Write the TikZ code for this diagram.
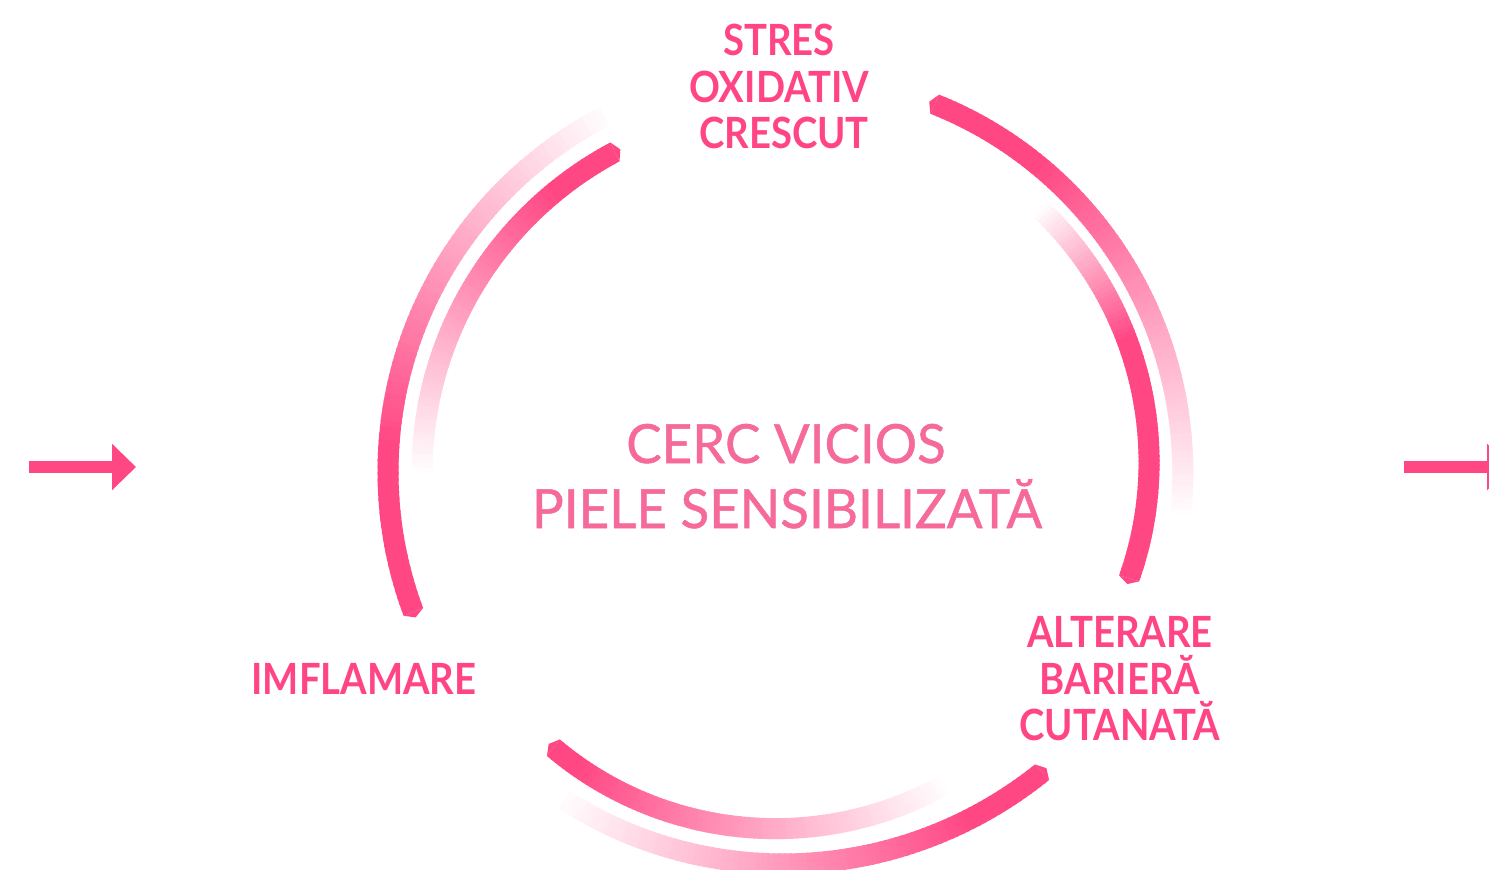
\documentclass[tikz,border=0pt]{standalone}
\usepackage{fontspec}
\setmainfont{Lato}
\newfontfamily\medfont{Lato}[FakeBold=0.9,FakeStretch=0.98]
\newfontfamily\labfont{Lato}[FakeStretch=0.89]
\usetikzlibrary{arrows.meta}
\definecolor{arcpink}{HTML}{FF4784}
\definecolor{labpink}{HTML}{FF4585}
\definecolor{cenpink}{HTML}{F56A9B}
\def\hw{10.5}
% #1 start angle, #2 mid angle, #3 end angle, #4 #5 #6 radii, #7 angle of zero colour, #8 angle of full colour
\newcommand{\gradarc}[8]{%
 \foreach \i in {0,...,89}{%
  \pgfmathsetmacro{\tmid}{(#2-#1)/(#3-#1)}%
  \pgfmathsetmacro{\ua}{\i/90}%
  \pgfmathsetmacro{\ub}{min(1,(\i+1.4)/90)}%
  \pgfmathsetmacro{\ta}{#1+(#3-#1)*\ua}%
  \pgfmathsetmacro{\tb}{#1+(#3-#1)*\ub}%
  \pgfmathsetmacro{\ra}{#4*(\ua-\tmid)*(\ua-1)/\tmid + #5*\ua*(\ua-1)/(\tmid*(\tmid-1)) + #6*\ua*(\ua-\tmid)/(1-\tmid)}%
  \pgfmathsetmacro{\rb}{#4*(\ub-\tmid)*(\ub-1)/\tmid + #5*\ub*(\ub-1)/(\tmid*(\tmid-1)) + #6*\ub*(\ub-\tmid)/(1-\tmid)}%
  \pgfmathsetmacro{\tc}{(\ta+\tb)/2}%
  \pgfmathtruncatemacro{\pc}{100*max(0,min(1,(\tc-#7)/(#8-#7)))}%
  \fill[arcpink!\pc!white] ({768+(\ra-\hw)*cos(\ta)},{470-(\ra-\hw)*sin(\ta)}) -- ({768+(\ra+\hw)*cos(\ta)},{470-(\ra+\hw)*sin(\ta)}) -- ({768+(\rb+\hw)*cos(\tb)},{470-(\rb+\hw)*sin(\tb)}) -- ({768+(\rb-\hw)*cos(\tb)},{470-(\rb-\hw)*sin(\tb)}) -- cycle;
 }}
% #1 angle, #2 radius, #3 direction (+1/-1), #4 tip length
\newcommand{\arctip}[4]{%
  \pgfmathsetmacro{\tipang}{#1+#3*#4/#2*57.2958}%
  \fill[arcpink] ({768+(#2-\hw)*cos(#1)},{470-(#2-\hw)*sin(#1)}) -- ({768+(#2+\hw)*cos(#1)},{470-(#2+\hw)*sin(#1)}) -- ({768+#2*cos(\tipang)},{470-#2*sin(\tipang)}) -- cycle;}
\tikzset{
  lab/.style={text=labpink, font=\labfont\bfseries\fontsize{21.5}{24}\selectfont, anchor=base, inner sep=0pt},
  cen/.style={text=cenpink, font=\medfont\fontsize{27}{30}\selectfont, anchor=base, inner sep=0pt},
  bigarrow/.style={draw=arcpink, line width=6.3pt, -{Triangle[length=12pt,width=22.5pt]}}
}
\begin{document}
\begin{tikzpicture}[x=0.5pt,y=-0.5pt]
\useasboundingbox (0,0) rectangle (1489,869);
\clip (0,0) rectangle (1489,869);
% arcs
\gradarc{113.9}{180}{201.8}{390}{380}{382}{114}{176}
\gradarc{115.7}{150}{181}{353}{347}{346}{181}{128}
\gradarc{65.5}{20}{-7}{402}{413}{415}{-7}{48}
\gradarc{44}{15}{-16.7}{377}{382}{377}{44}{20}
\gradarc{232.3}{266}{300}{351}{358}{361}{300}{238}
\gradarc{237.5}{275}{312.2}{387.5}{395}{408}{237.5}{300}
\arctip{201.8}{382}{1}{6}
\arctip{115.7}{353}{-1}{6}
\arctip{65.5}{402}{1}{6}
\arctip{-16.7}{377}{-1}{6}
\arctip{232.3}{351}{-1}{6}
\arctip{312.2}{408}{1}{6}
% arrows
\coordinate (la0) at (29,467);
\coordinate (la1) at (136,467);
\coordinate (ra0) at (1404,467);
\coordinate (ra1) at (1511,467);
\draw[bigarrow] (la0) -- (la1);
\draw[bigarrow] (ra0) -- (ra1);
% labels
\node[lab] (s1) at (779,55) {STRES};
\node[lab] (s2) at (779,102) {OXIDATIV};
\node[lab] (s3) at (784,148) {CRESCUT};
\node[lab] (im) at (364,694) {IMFLAMARE};
\node[lab] (a1) at (1120,647) {ALTERARE};
\node[lab] (a2) at (1120,694) {BARIERĂ};
\node[lab] (a3) at (1120,740) {CUTANATĂ};
\node[cen] (c1) at (786,463) {CERC VICIOS};
\node[cen] (c2) at (787,528) {PIELE SENSIBILIZATĂ};
\end{tikzpicture}
\end{document}
